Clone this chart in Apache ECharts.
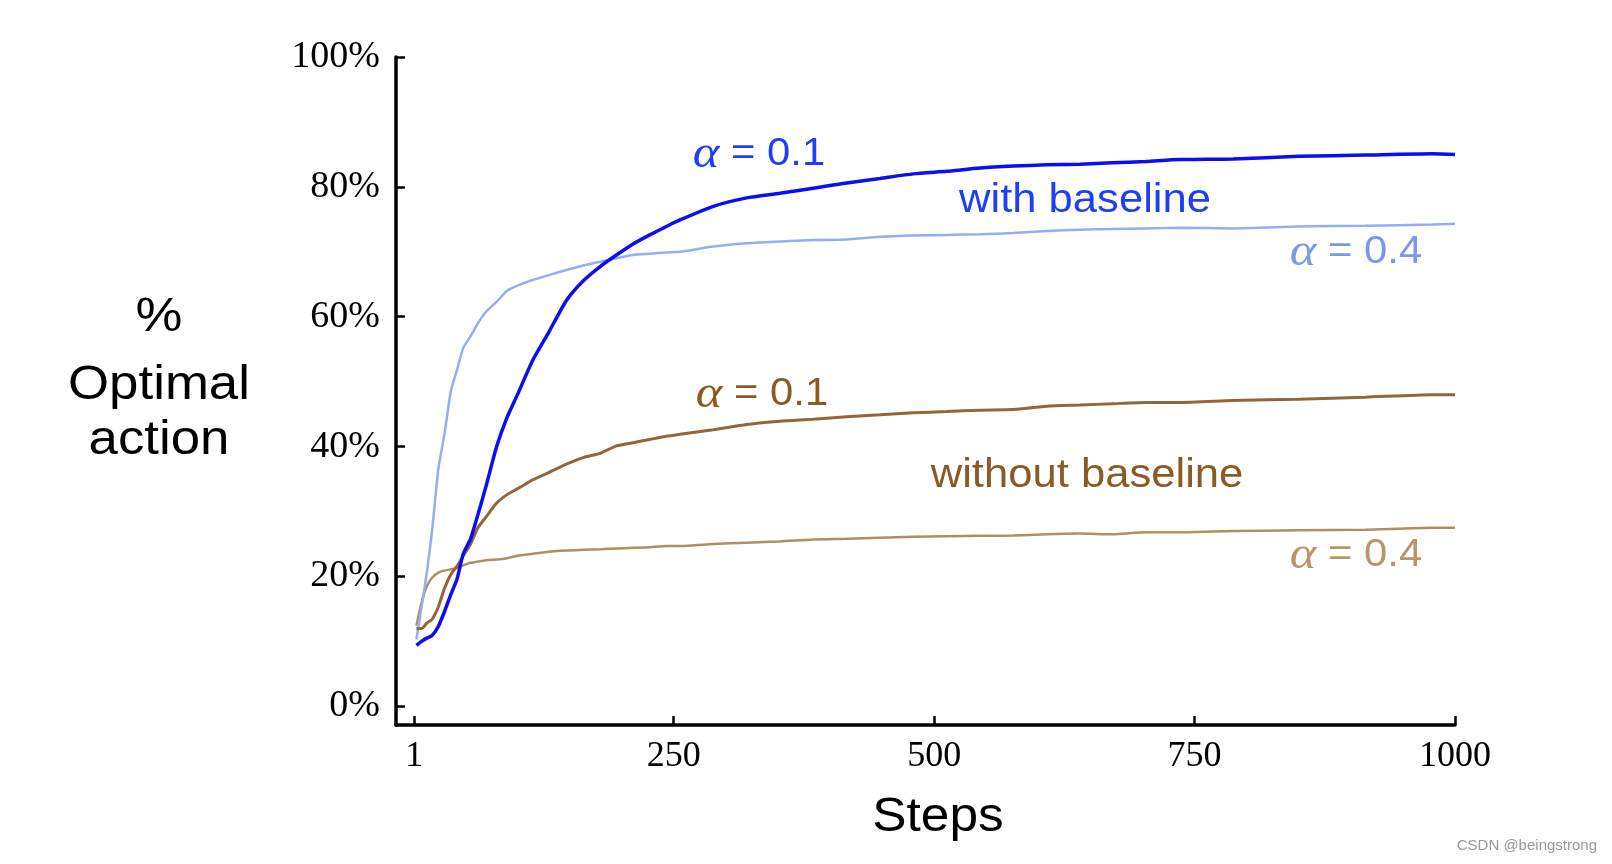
<!DOCTYPE html>
<html>
<head>
<meta charset="UTF-8">
<title>% Optimal action</title>
<script src="https://cdn.jsdelivr.net/npm/echarts@6/dist/echarts.min.js"></script>
<style>
  html, body { margin: 0; padding: 0; background: #fff; }
  #chart { width: 1612px; height: 864px; }
</style>
</head>
<body>
<div id="chart"></div>
<script>
// steps sampled along the x axis
var steps = [3, 8, 13, 18, 24, 30, 36, 42, 48, 55, 62, 70, 80, 90, 100, 115, 130, 147, 163, 180,
  195, 211, 227, 243, 256, 288, 320, 352, 384, 416, 448, 480, 512, 544, 576, 608, 640, 671, 703, 735,
  787, 850, 914, 978, 1000];

// with baseline, alpha = 0.1
var withBase01 = [9.4, 10.0, 10.5, 10.9, 12.3, 14.6, 17.2, 19.6, 23.5, 25.8, 29.5, 34.0, 40.0, 44.5, 48.0, 53.4, 57.6, 62.5, 65.5, 67.8,
  69.5, 71.2, 72.6, 73.9, 74.9, 77.0, 78.3, 79.0, 79.8, 80.6, 81.3, 82.0, 82.4, 82.9, 83.2, 83.4, 83.5, 83.7, 83.9, 84.2,
  84.3, 84.7, 84.9, 85.1, 85.0];

// with baseline, alpha = 0.4
var withBase04 = [10.3, 15.4, 20.6, 27.0, 36.5, 42.0, 48.5, 51.8, 55.2, 57.0, 59.0, 60.8, 62.3, 64.0, 64.8, 65.7, 66.4, 67.2, 67.9, 68.5,
  69.0, 69.5, 69.7, 69.9, 70.0, 70.8, 71.3, 71.6, 71.8, 71.9, 72.3, 72.5, 72.6, 72.7, 72.9, 73.2, 73.4, 73.5, 73.6, 73.7,
  73.6, 73.9, 74.0, 74.2, 74.3];

// without baseline, alpha = 0.1
var noBase01 = [12.0, 12.0, 12.8, 13.4, 15.3, 18.2, 20.3, 21.6, 23.2, 25.0, 27.5, 29.2, 31.3, 32.6, 33.5, 34.9, 36.0, 37.3, 38.3, 39.0,
  40.1, 40.6, 41.1, 41.6, 41.9, 42.6, 43.4, 43.9, 44.2, 44.6, 44.9, 45.2, 45.4, 45.6, 45.7, 46.2, 46.4, 46.6, 46.8, 46.8,
  47.1, 47.3, 47.6, 48.0, 48.0];

// without baseline, alpha = 0.4
var noBase04 = [12.4, 16.0, 18.5, 19.8, 20.6, 20.9, 21.1, 21.3, 21.7, 22.1, 22.3, 22.5, 22.6, 22.8, 23.2, 23.5, 23.8, 24.0, 24.1, 24.2,
  24.3, 24.4, 24.5, 24.7, 24.7, 25.0, 25.2, 25.4, 25.7, 25.8, 25.95, 26.1, 26.2, 26.25, 26.3, 26.5, 26.6, 26.5, 26.8, 26.8,
  27.0, 27.1, 27.2, 27.5, 27.5];

var xTicks = [1, 250, 500, 750, 1000];
var yTicks = [0, 20, 40, 60, 80, 100];

function pairs(vals) {
  return steps.map(function (s, i) { return [s, vals[i]]; });
}

var chart = echarts.init(document.getElementById('chart'));

var sans = 'Liberation Sans, Arial, sans-serif';
var serif = 'Liberation Serif, Times New Roman, serif';

// label "α = x" with a serif italic alpha
function alphaLabel(x, y, val, color) {
  return {
    type: 'text', x: x, y: y, scaleX: 1.1,
    style: {
      text: '{a|α} = ' + val,
      fill: color, fontFamily: sans, fontSize: 38,
      align: 'center', verticalAlign: 'middle',
      textAlign: 'center', textVerticalAlign: 'middle',
      rich: {
        a: { fontFamily: serif, fontStyle: 'italic', fontSize: 46, fill: color }
      }
    }
  };
}

function plainText(x, y, txt, size, color, sx) {
  return {
    type: 'text', x: x, y: y, scaleX: sx,
    style: {
      text: txt, fill: color, fontFamily: sans, fontSize: size,
      align: 'center', verticalAlign: 'middle',
      textAlign: 'center', textVerticalAlign: 'middle'
    }
  };
}

var option = {
  animation: false,
  backgroundColor: '#fff',
  grid: { left: 396, right: 157, top: 57, bottom: 139 },
  xAxis: {
    type: 'value',
    min: -16.6,
    max: 1000,
    axisLine: { onZero: false, lineStyle: { color: '#000', width: 3.5 } },
    axisTick: { inside: true, length: 9, customValues: xTicks, lineStyle: { color: '#000', width: 2.5 } },
    axisLabel: {
      customValues: xTicks, color: '#000', fontFamily: serif, fontSize: 36, margin: 14,
      formatter: function (v) { return String(v); }
    },
    splitLine: { show: false }
  },
  yAxis: {
    type: 'value',
    min: -2.88,
    max: 100,
    axisLine: { show: true, onZero: false, lineStyle: { color: '#000', width: 3.5 } },
    axisTick: { show: true, inside: true, length: 9, customValues: yTicks, lineStyle: { color: '#000', width: 2.5 } },
    axisLabel: {
      customValues: yTicks, color: '#000', fontFamily: serif, fontSize: 38, margin: 16,
      padding: [8, 0, 0, 0],
      formatter: function (v) { return v + '%'; }
    },
    splitLine: { show: false }
  },
  series: [
    { name: 'without baseline α=0.4', type: 'line', showSymbol: false, smooth: 0.2, data: pairs(noBase04),
      lineStyle: { color: '#ad8f63', width: 2.5 } },
    { name: 'with baseline α=0.4', type: 'line', showSymbol: false, smooth: 0.2, data: pairs(withBase04),
      lineStyle: { color: '#94adf7', width: 2.5 } },
    { name: 'without baseline α=0.1', type: 'line', showSymbol: false, smooth: 0.2, data: pairs(noBase01),
      lineStyle: { color: '#94643a', width: 3 } },
    { name: 'with baseline α=0.1', type: 'line', showSymbol: false, smooth: 0.2, data: pairs(withBase01),
      lineStyle: { color: '#0d0df2', width: 3.5 } }
  ],
  graphic: [
    plainText(159, 318, '%', 48, '#000', 1.1),
    plainText(159, 386, 'Optimal', 48, '#000', 1.1),
    plainText(159, 441, 'action', 48, '#000', 1.1),
    plainText(938, 818, 'Steps', 48, '#000', 1.07),
    alphaLabel(759, 155, '0.1', '#1f3ff5'),
    plainText(1085, 201, 'with baseline', 40, '#1f3ff5', 1.09),
    alphaLabel(1356, 253, '0.4', '#7b97ee'),
    alphaLabel(762, 395, '0.1', '#8b5a24'),
    plainText(1087, 476, 'without baseline', 40, '#8b5a24', 1.09),
    alphaLabel(1356, 556, '0.4', '#b8966a'),
    {
      type: 'text', x: 1597, y: 846,
      style: { text: 'CSDN @beingstrong', fill: '#999', fontFamily: sans, fontSize: 15,
        align: 'right', verticalAlign: 'middle', textAlign: 'right', textVerticalAlign: 'middle' }
    }
  ]
};

chart.setOption(option);
</script>
</body>
</html>
